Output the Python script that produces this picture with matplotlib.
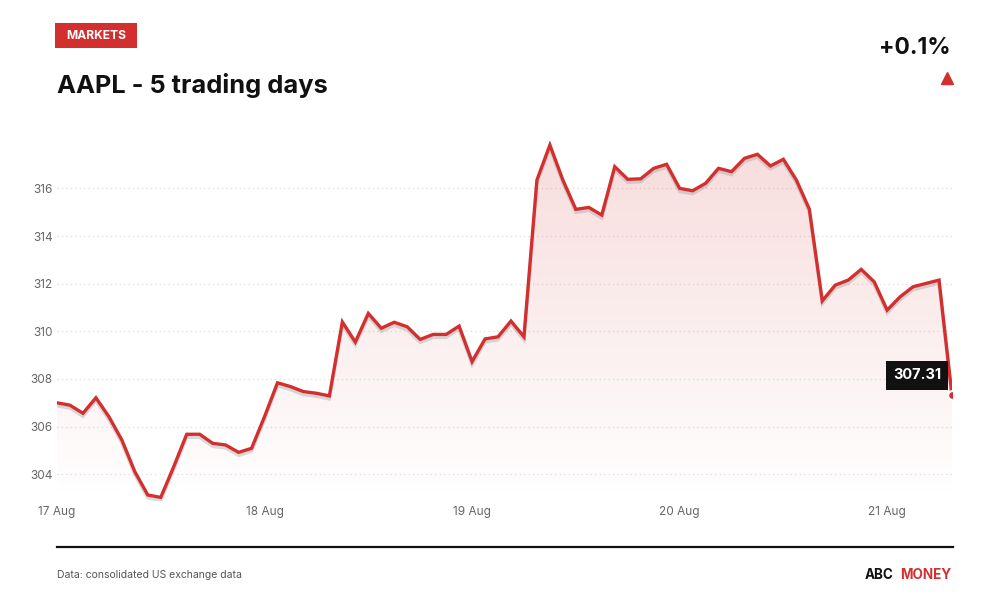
import matplotlib
matplotlib.use('Agg')
import matplotlib.pyplot as plt
import numpy as np
from matplotlib import patheffects as pe
from matplotlib.colors import LinearSegmentedColormap
from matplotlib.lines import Line2D
from matplotlib.patches import Rectangle

# ---------------- data ----------------
prices = [
    307.00, 306.90, 306.56, 307.21, 306.42, 305.44, 304.11, 303.13, 303.03, 304.32,
    305.68, 305.68, 305.30, 305.23, 304.92, 305.09,
    306.42, 307.84, 307.68, 307.47, 307.40, 307.29, 310.39, 309.55, 310.75, 310.13,
    310.38, 310.19, 309.66, 309.87, 309.87, 310.22,
    308.73, 309.68, 309.77, 310.43, 309.77, 316.35, 317.82, 316.35, 315.12, 315.20,
    314.88, 316.91, 316.38, 316.40, 316.84, 317.01,
    316.00, 315.90, 316.21, 316.84, 316.70, 317.26, 317.43, 316.94, 317.22, 316.35,
    315.13, 311.28, 311.94, 312.15, 312.60, 312.08,
    310.89, 311.45, 311.87, 312.01, 312.15, 307.31,
]
day_labels = ['17 Aug', '18 Aug', '19 Aug', '20 Aug', '21 Aug']
bars_per_day = 16
y_ticks = [304, 306, 308, 310, 312, 314, 316]
title = 'AAPL - 5 trading days'
tag = 'MARKETS'
change_text = '+0.1%'
source = 'Data: consolidated US exchange data'
brand = ['ABC', 'MONEY']

# ---------------- style ----------------
RED = '#d32f2f'
plt.rcParams['font.family'] = ['Inter', 'DejaVu Sans']

W, H = 1000, 600
fig = plt.figure(figsize=(10, 6), dpi=100)
fig.patch.set_facecolor('white')

def fx(px):
    return px / W

def fy(py):
    return 1 - py / H

ymin, ymax = 302.9, 318.0
ax = fig.add_axes([fx(57), fy(500.5), fx(952 - 57), (500.5 - 140.7) / H])
x = np.arange(len(prices))
ax.set_xlim(0, len(prices) - 1)
ax.set_ylim(ymin, ymax)

# gradient fill under line
cmap = LinearSegmentedColormap.from_list(
    'g', [(0.827, 0.184, 0.184, 0.0), (0.827, 0.184, 0.184, 0.17)])
grad = np.linspace(1, 0, 256).reshape(-1, 1)
im = ax.imshow(grad, extent=[0, len(prices) - 1, ymin, ymax], aspect='auto',
               cmap=cmap, origin='upper', zorder=1, interpolation='bilinear')
poly = ax.fill_between(x, prices, ymin, color='none', lw=0)
im.set_clip_path(poly.get_paths()[0], ax.transData)

# line with soft shadow
ax.plot(x, prices, color=RED, lw=2.4, solid_joinstyle='miter', zorder=3,
        path_effects=[pe.SimpleLineShadow(offset=(0, -2.2), shadow_color='#999999', alpha=0.35),
                      pe.Normal()])
ax.scatter([x[-1]], [prices[-1]], s=40, color=RED, edgecolor='white', linewidth=1.5,
           zorder=5, clip_on=True)

ax.annotate(f'{prices[-1]:.2f}', xy=(x[-1], prices[-1]), xytext=(-35, 20),
            textcoords='offset pixels', ha='center', va='center', color='white',
            fontsize=10.5, fontweight='bold', zorder=6,
            bbox=dict(boxstyle='square,pad=0.5', fc='#111111', ec='none'))

# axes styling
ax.set_yticks(y_ticks)
ax.set_yticklabels([str(t) for t in y_ticks])
ax.set_xticks([i * bars_per_day for i in range(len(day_labels))])
ax.set_xticklabels(day_labels)
ax.grid(axis='y', linestyle=(0, (1, 3)), color='#d9d9d9', lw=0.8)
ax.grid(axis='x', visible=False)
ax.set_axisbelow(True)
for s in ax.spines.values():
    s.set_visible(False)
ax.tick_params(axis='both', length=0, labelcolor='#666666', labelsize=8.5)
ax.tick_params(axis='y', pad=3)
ax.tick_params(axis='x', pad=4)

# header
fig.add_artist(Rectangle((fx(55), fy(48.3)), fx(81.5), 25 / H, transform=fig.transFigure,
                         facecolor=RED, edgecolor='none'))
fig.text(fx(95.8), fy(36), tag, ha='center', va='center', color='white',
         fontsize=8.7, fontweight='bold')
fig.text(fx(57), fy(85), title, ha='left', va='center', color='#111111',
         fontsize=18.3, fontweight='bold')
fig.text(fx(951), fy(48), change_text, ha='right', va='center', color='#111111',
         fontsize=16.5, fontweight='bold')
fig.add_artist(Line2D([fx(946.5)], [fy(77.5)], marker='^', markersize=9, color=RED,
                      linestyle='none', transform=fig.transFigure))

# footer
fig.add_artist(Line2D([fx(57), fx(953)], [fy(547), fy(547)], color='#111111', lw=1.6,
                      transform=fig.transFigure))
fig.text(fx(57), fy(575), source, ha='left', va='center', color='#555555', fontsize=7.5)
t2 = fig.text(fx(951), fy(575), brand[1], ha='right', va='center', color=RED,
              fontsize=9.7, fontweight='bold')
fig.canvas.draw()
bb = t2.get_window_extent()
fig.text((bb.x0 - 6) / W, fy(575), brand[0], ha='right', va='center', color='#111111',
         fontsize=9.7, fontweight='bold')

fig.savefig('out.png', dpi=100)
